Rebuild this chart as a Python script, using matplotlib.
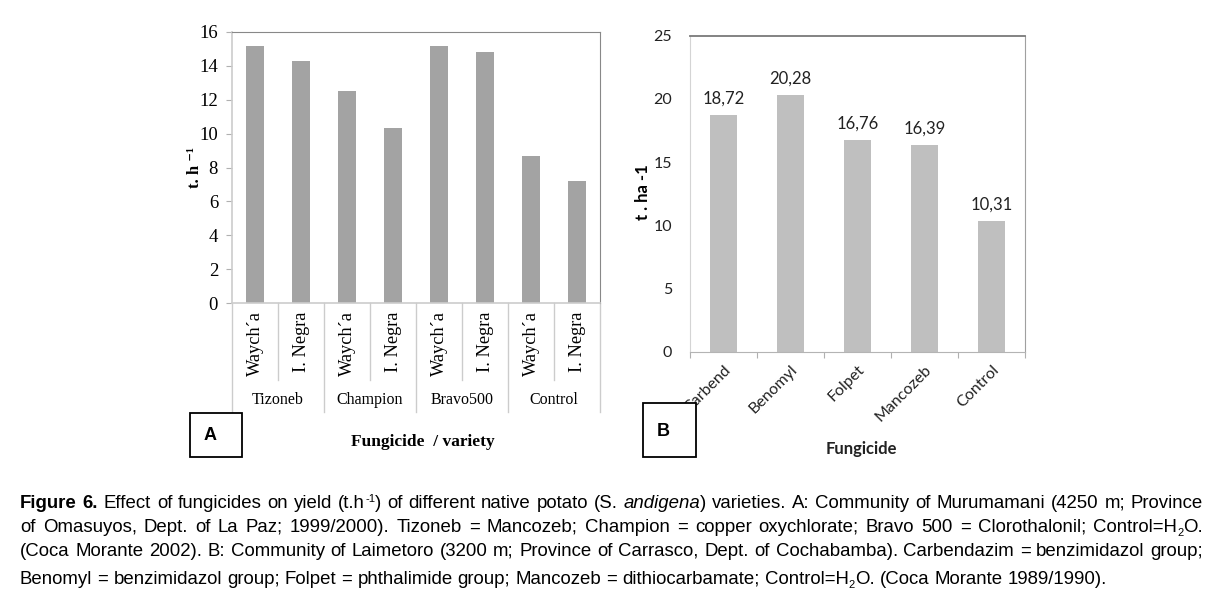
import numpy as np
import matplotlib
matplotlib.use('Agg')
import matplotlib.pyplot as plt
from matplotlib.patches import Rectangle
from matplotlib.transforms import blended_transform_factory

# Panel A data
groups_a = ['Tizoneb', 'Champion', 'Bravo500', 'Control']
varieties_a = ['Waych\u00b4a', 'I. Negra']
yield_a = [15.15, 14.3, 12.5, 10.33, 15.15, 14.83, 8.69, 7.18]

# Panel B data
fungicides_b = ['Carbend', 'Benomyl', 'Folpet', 'Mancozeb', 'Control']
yield_b = [18.72, 20.28, 16.76, 16.39, 10.31]

W, H = 1212, 598
fig = plt.figure(figsize=(W / 100, H / 100), dpi=100)

SERIF = ['Liberation Serif', 'DejaVu Serif']
SANS = ['Lato', 'DejaVu Sans']
CAP = ['Liberation Sans', 'DejaVu Sans']


def fx(px):
    return px / W


def fy(py):
    return 1 - py / H


# ---------------- Panel A ----------------
axA = fig.add_axes([fx(232), fy(303), fx(600) - fx(232), fy(32) - fy(303)])
n_a = len(yield_a)
xa = np.arange(n_a) + 0.5
axA.bar(xa, yield_a, width=0.4, color='#a3a3a3', zorder=2)
axA.set_xlim(0, n_a)
axA.set_ylim(0, 16)
axA.set_yticks(np.arange(0, 17, 2))
axA.tick_params(axis='y', length=4, color='#b0b0b0', pad=6)
for lab in axA.get_yticklabels():
    lab.set_fontfamily(SERIF)
    lab.set_fontsize(13.5)
axA.set_xticks(xa)
axA.set_xticklabels([varieties_a[i % 2] for i in range(n_a)], rotation=90,
                    fontfamily=SERIF, fontsize=13.2, va='top')
axA.tick_params(axis='x', length=0, pad=6)
for s in ['top', 'right']:
    axA.spines[s].set_color('#888888')
for s in ['left', 'bottom']:
    axA.spines[s].set_color('#cccccc')
    axA.spines[s].set_linewidth(1.2)

trA = blended_transform_factory(axA.transData, axA.transAxes)
for i in range(n_a + 1):
    y_end = -0.402 if i % 2 == 0 else -0.284
    axA.plot([i, i], [0, y_end], color='#cccccc', lw=1, transform=trA, clip_on=False)
for g, name in enumerate(groups_a):
    axA.text(2 * g + 1, -0.358, name, transform=trA, ha='center', va='center',
             fontfamily=SERIF, fontsize=11.5)

fig.text(fx(195), fy(168), 't. h \u207b\u00b9', rotation=90, ha='center', va='center',
         fontfamily=SERIF, fontsize=12, fontweight='bold')
fig.text(fx(423), fy(442), 'Fungicide  / variety', ha='center', va='center',
         fontfamily=SERIF, fontsize=12.5, fontweight='bold')

# ---------------- Panel B ----------------
axB = fig.add_axes([fx(690), fy(351.7), fx(1025) - fx(690), fy(35.7) - fy(351.7)])
n_b = len(yield_b)
xb = np.arange(n_b) + 0.5
axB.bar(xb, yield_b, width=0.4, color='#bfbfbf', zorder=2)
axB.set_xlim(0, n_b)
axB.set_ylim(0, 25)
axB.set_yticks(np.arange(0, 26, 5))
axB.tick_params(axis='y', length=0, pad=13, labelsize=11.5, labelcolor='#222222')
for lab in axB.get_yticklabels():
    lab.set_fontfamily(SANS)
for i, v in enumerate(yield_b):
    axB.annotate(f'{v:.2f}'.replace('.', ','), (xb[i], v), xytext=(0, 6),
                 textcoords='offset points', ha='center', va='bottom',
                 fontfamily=SANS, fontsize=12, color='#222222')
axB.set_xticks(np.arange(n_b + 1), minor=False)
axB.set_xticklabels([''] * (n_b + 1))
axB.tick_params(axis='x', length=4, color='#b0b0b0', direction='out')
axB.set_xticks(xb, minor=True)
axB.set_xticklabels(fungicides_b, minor=True, rotation=45, ha='right',
                    rotation_mode='anchor', fontfamily=SANS, fontsize=11.5,
                    color='#222222')
axB.tick_params(axis='x', which='minor', length=0, pad=8)
axB.spines['top'].set_color('#7a7a7a')
axB.spines['top'].set_linewidth(1.3)
axB.spines['right'].set_color('#a0a0a0')
axB.spines['left'].set_color('#d4d4d4')
axB.spines['bottom'].set_color('#b4b4b4')

fig.text(fx(643), fy(192), 't . ha -1', rotation=90, ha='center', va='center',
         fontfamily=SANS, fontsize=12, fontweight='bold')
fig.text(fx(861), fy(449), 'Fungicide', ha='center', va='center',
         fontfamily=SANS, fontsize=12, fontweight='bold', color='#222222')

# ---------------- panel tags ----------------
for (x0, y0, x1, y1), tag, (tx, ty) in [((190, 413, 242, 457), 'A', (210, 435)),
                                         ((643, 403, 696, 457), 'B', (663, 431))]:
    fig.add_artist(Rectangle((fx(x0), fy(y1)), fx(x1) - fx(x0), fy(y0) - fy(y1),
                             transform=fig.transFigure, facecolor='white',
                             edgecolor='black', lw=1.3, zorder=10))
    fig.text(fx(tx), fy(ty), tag, ha='center', va='center', fontsize=13,
             fontweight='bold', fontfamily=['Liberation Sans', 'DejaVu Sans'], zorder=11)

# ---------------- caption (justified lines) ----------------
renderer = fig.canvas.get_renderer()
CAP_SIZE = 13.4


def style_kw(style):
    kw = dict(fontfamily=CAP, fontsize=CAP_SIZE, va='baseline', ha='left')
    dy = 0
    if style == 'b':
        kw['fontweight'] = 'bold'
    elif style == 'i':
        kw['fontstyle'] = 'italic'
    elif style == 'sup':
        kw['fontsize'] = CAP_SIZE * 0.6
        dy = -6
    elif style == 'sub':
        kw['fontsize'] = CAP_SIZE * 0.6
        dy = 4
    return kw, dy


def text_width(txt, kw):
    t = fig.text(0, 0, txt, **kw)
    w = t.get_window_extent(renderer).width
    t.remove()
    return w


SPACE_W = text_width('a a', style_kw('')[0]) - text_width('aa', style_kw('')[0])


def caption_line(y, pieces, x=20, right=1203, justify=True):
    tokens = []
    for txt, style in pieces:
        parts = txt.split(' ')
        for j, part in enumerate(parts):
            if j > 0:
                tokens.append((None, None))
            if part:
                tokens.append((part, style))
    widths = [text_width(t, style_kw(s)[0]) if t is not None else SPACE_W for t, s in tokens]
    n_sp = sum(1 for t, _ in tokens if t is None)
    extra = (right - x - sum(widths)) / n_sp if (justify and n_sp) else 0
    for (t, s), w in zip(tokens, widths):
        if t is None:
            x += w + extra
            continue
        kw, dy = style_kw(s)
        fig.text(fx(x), fy(y + dy), t, **kw)
        x += w


caption_line(508, [('Figure 6.', 'b'),
                   (' Effect of fungicides on yield (t.h', ''), ('-1', 'sup'),
                   (') of different native potato (S. ', ''), ('andigena', 'i'),
                   (') varieties. A: Community of Murumamani (4250 m; Province', '')])
caption_line(532, [('of Omasuyos, Dept. of La Paz; 1999/2000). Tizoneb = Mancozeb; Champion = copper '
                    'oxychlorate; Bravo 500 = Clorothalonil; Control=H', ''), ('2', 'sub'), ('O.', '')])
caption_line(556, [('(Coca Morante 2002). B: Community of Laimetoro (3200 m; Province of Carrasco, Dept. '
                    'of Cochabamba). Carbendazim = benzimidazol group;', '')])
caption_line(584, [('Benomyl = benzimidazol group; Folpet = phthalimide group; Mancozeb = '
                    'dithiocarbamate; Control=H', ''), ('2', 'sub'),
                   ('O. (Coca Morante 1989/1990).', '')], justify=False)

fig.savefig('out.png', dpi=100)
